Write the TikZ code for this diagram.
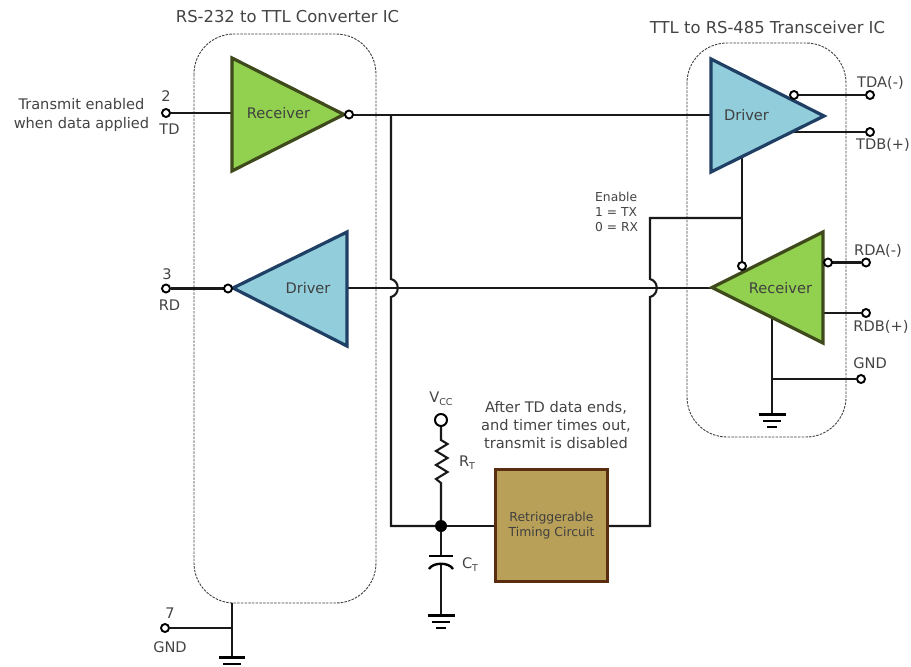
\documentclass[tikz,border=0pt]{standalone}
\usepackage{fontspec}
\setmainfont{DejaVu Sans}
\definecolor{txt}{HTML}{444444}
\definecolor{gfill}{HTML}{92D14F}
\definecolor{gline}{HTML}{3F4A1C}
\definecolor{bfill}{HTML}{92CDDC}
\definecolor{bline}{HTML}{1F3F64}
\definecolor{tfill}{HTML}{B9A058}
\definecolor{tline}{HTML}{5A2C10}
\begin{document}
\begin{tikzpicture}[x=1pt,y=-1pt,
  wire/.style={draw=black!90,line width=2.1pt},
  ic/.style={draw=black!75,dash pattern=on 2.5pt off 1.2pt,line width=0.9pt,rounded corners=40pt},
  pin/.style={circle,draw=black,fill=white,line width=1.9pt,inner sep=0pt,minimum size=8pt},
  lab/.style={text=txt,font=\fontsize{14.6}{18}\selectfont,inner sep=0pt,align=center},
  small/.style={text=txt,font=\fontsize{12.3}{15}\selectfont,inner sep=0pt,align=left},
  green/.style={fill=gfill,draw=gline,line width=3.2pt,miter limit=10},
  blue/.style={fill=bfill,draw=bline,line width=3.2pt,miter limit=10},
  gbar/.style={draw=black,line cap=butt}]
\useasboundingbox (0,0) rectangle (911,667);
\fill[white] (0,0) rectangle (911,667);

% IC outlines
\draw[ic] (194,34) rectangle (376,603);
\draw[ic] (687,43) rectangle (846,437);

% coordinates
\coordinate (lrxIn) at (232,113);
\coordinate (ldrvOut) at (347,288);
\coordinate (rdrvIn) at (711,115);
\coordinate (rdrvEn) at (742,157);
\coordinate (rdrvB) at (793,132);
\coordinate (rrxIn) at (712,288);
\coordinate (rrxB) at (824,313);
\coordinate (rrxG) at (772,317);
\coordinate (branch) at (391,115);
\coordinate (enTee) at (742,218);
\coordinate (enCorner) at (650,218);
\coordinate (gTee) at (772,379);
\coordinate (jA1) at (391,279);
\coordinate (jA2) at (391,297);
\coordinate (jB1) at (650,279);
\coordinate (jB2) at (650,297);
\coordinate (cA) at (391,526);
\coordinate (cB) at (650,526);
\coordinate (lgndTop) at (232,603);
\coordinate (lgndTee) at (232,628);
\coordinate (gndL) at (232,657);
\coordinate (gndR) at (772,414);
\coordinate (gndC) at (441,615);
\coordinate (rTop) at (441,440);
\coordinate (rBot) at (441,483);
\coordinate (capTop) at (441,556);
\coordinate (capBot) at (441,565);

% pins and nodes
\node[pin] (pTD) at (166,113) {};
\node[pin] (pRD) at (166,288.5) {};
\node[pin] (pG7) at (165,628) {};
\node[pin] (pTDA) at (870,95) {};
\node[pin] (pTDB) at (870,132) {};
\node[pin] (pRDA) at (866,262.5) {};
\node[pin] (pRDB) at (866,313) {};
\node[pin] (pGND) at (861,379) {};
\node[pin,minimum size=12pt,line width=2pt] (pVCC) at (441,420) {};
\node[circle,fill=black,inner sep=0pt,minimum size=12pt] (jn) at (441,526) {};
\node[fill=tfill,draw=tline,line width=3pt,minimum size=112pt,inner sep=0pt,
      text=black!75,font=\fontsize{12.4}{15}\selectfont,align=center] (timer) at (551.5,525.5) {Retriggerable\\Timing Circuit};

% wires
\draw[wire] (pTD) -- (lrxIn);
\draw[wire] (pRD) -- (228,288.5);
\draw[wire] (353,115) -- (branch) -- (rdrvIn);
\draw[wire] (branch) -- (jA1) .. controls (400,281) and (400,295) .. (jA2) -- (cA) -- (jn);
\draw[wire] (jn) -- (timer.west |- jn);
\draw[wire] (ldrvOut) -- (rrxIn);
\draw[wire] (timer.east |- cB) -- (cB) -- (jB2) .. controls (659,295) and (659,281) .. (jB1) -- (enCorner) -- (enTee);
\draw[wire] (rdrvEn) -- (enTee) -- (742,263);
\draw[wire] (797,95) -- (pTDA);
\draw[wire] (rdrvB) -- (pTDB);
\draw[wire] (831,262.5) -- (pRDA);
\draw[wire] (rrxB) -- (pRDB);
\draw[wire] (rrxG) -- (gndR);
\draw[wire] (gTee) -- (pGND);
\draw[wire] (lgndTop) -- (gndL);
\draw[wire] (pG7) -- (lgndTee);
\draw[wire] (pVCC) -- (rTop) -- (447.5,444) -- (436,451) -- (447.5,458) -- (436,465) -- (447.5,472) -- (436,479) -- (rBot) -- (jn);
\draw[wire] (jn) -- (capTop);
\draw[wire] (capBot) -- (gndC);
\draw[line width=2.4pt] (429,556) -- (453,556);
\draw[line width=2.4pt] (429,569) .. controls (433,562) and (449,562) .. (453,569);

% grounds
\draw[gbar,line width=3pt] (758.5,414) -- (785.5,414);
\draw[gbar,line width=2pt] (763,421) -- (781,421);
\draw[gbar,line width=1.5pt] (767,427) -- (777,427);
\draw[gbar,line width=3pt] (427.5,615) -- (454.5,615);
\draw[gbar,line width=2pt] (432,622) -- (450,622);
\draw[gbar,line width=1.5pt] (436,628) -- (446,628);
\draw[gbar,line width=3pt] (219,657) -- (245,657);
\draw[gbar,line width=2pt] (223,663.5) -- (241,663.5);

% triangles
\draw[green] (232,58) -- (232,171) -- (344,114.5) -- cycle;
\draw[blue] (347,232) -- (347,346) -- (233,288) -- cycle;
\draw[blue] (711,59) -- (711,172) -- (824,116) -- cycle;
\draw[green] (823,232) -- (823,343) -- (712,287.5) -- cycle;

% bubbles
\node[pin] (bA) at (349,114.5) {};
\node[pin] (bB) at (228,288.5) {};
\node[pin] (bC) at (794,95) {};
\node[pin] (bD) at (742,266) {};
\node[pin] (bE) at (828,262.5) {};

% labels
\node[lab,text=black!75] at (278.5,113.5) {Receiver};
\node[lab,text=black!75] at (308,288) {Driver};
\node[lab,text=black!75] at (746.5,115.5) {Driver};
\node[lab,text=black!75] at (780.5,288) {Receiver};
\node[lab,font=\fontsize{16.4}{18}\selectfont] at (287.5,16.5) {RS-232 to TTL Converter IC};
\node[lab,font=\fontsize{16.4}{18}\selectfont] at (767.5,27.5) {TTL to RS-485 Transceiver IC};
\node[lab,font=\fontsize{14.6}{18.5}\selectfont] at (81.5,115) {Transmit enabled\\when data applied};
\node[lab] at (166,96) {2};
\node[lab] at (169.5,129.5) {TD};
\node[lab] at (167,274.5) {3};
\node[lab] at (169.5,305) {RD};
\node[lab] at (170,613.5) {7};
\node[lab] at (170,647) {GND};
\node[lab] at (880.5,83) {TDA(-)};
\node[lab] at (883,145) {TDB(+)};
\node[lab] at (878,251) {RDA(-)};
\node[lab] at (881,327) {RDB(+)};
\node[lab] at (870,363) {GND};
\node[small,anchor=west] at (595,212) {Enable\\1 = TX\\0 = RX};
\node[lab,font=\fontsize{14.6}{18}\selectfont] at (556,425) {After TD data ends,\\and timer times out,\\transmit is disabled};
\node[lab] at (441,399) {V\raisebox{-3pt}{\fontsize{9.5}{10}\selectfont CC}};
\node[lab] at (467,463) {R\raisebox{-3pt}{\fontsize{9.5}{10}\selectfont T}};
\node[lab] at (470,565) {C\raisebox{-3pt}{\fontsize{9.5}{10}\selectfont T}};
\end{tikzpicture}
\end{document}
